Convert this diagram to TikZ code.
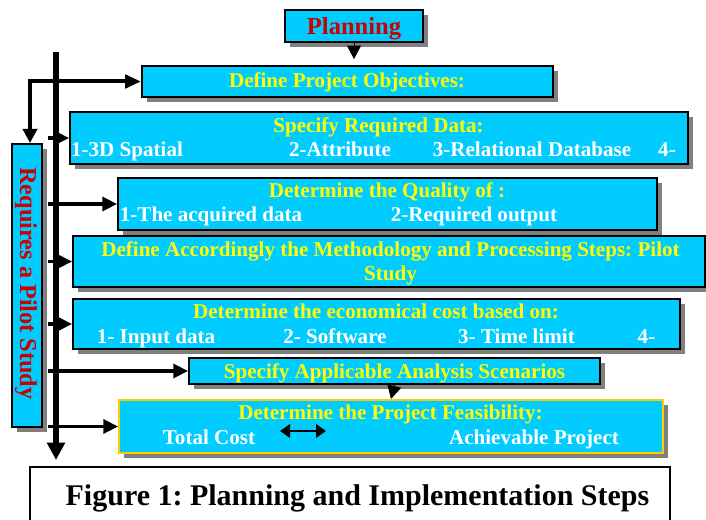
\documentclass[tikz,border=0pt]{standalone}
\usepackage{fontspec}
\setmainfont{Liberation Serif}
\usetikzlibrary{arrows.meta, shadows, calc}

\definecolor{skyfill}{RGB}{0,204,255}
\definecolor{headyellow}{RGB}{255,255,0}
\definecolor{planred}{RGB}{204,0,0}
\definecolor{goldline}{RGB}{255,204,0}
\definecolor{shadowgray}{RGB}{128,128,128}

\newcommand\bodyfont{\frenchspacing\fontsize{15.8}{18}\selectfont\bfseries}

\begin{document}
\begin{tikzpicture}[
  x=0.75pt, y=-0.75pt,
  stepbox/.style={draw=black, line width=1.5pt, fill=skyfill, inner sep=0pt,
                  drop shadow={shadow xshift=4pt, shadow yshift=-4pt,
                               fill=shadowgray, opacity=1}},
  head/.style={text=headyellow, font=\bodyfont, inner sep=0pt, anchor=base},
  item/.style={text=white, font=\bodyfont, inner sep=0pt, anchor=base},
  feed/.style={line width=2.4pt, -{Triangle[length=11pt, width=10.5pt]}},
  downtip/.style={line width=0.6pt, -{Triangle[length=10pt, width=10.5pt]}},
]
\useasboundingbox (0,0) rectangle (706,520);

% top of the chain
\node[stepbox, minimum width=103.5pt, minimum height=24pt] (plan) at (354,26) {};
\node[text=planred, inner sep=0pt, anchor=base,
      font=\fontsize{18.4}{20}\selectfont\bfseries] (plantext) at (354,35) {Planning};

\node[stepbox, minimum width=308.25pt, minimum height=23.25pt] (obj) at (347.5,81.5) {};
\node[head] (objhead) at (347,88) {Define Project Objectives:};

% required data
\node[stepbox, minimum width=463.5pt, minimum height=39pt] (data) at (379,138) {};
\node[head] (datahead) at (378.5,133) {Specify Required Data:};
\node[item] (spatial)  at (127,157)   {1-3D Spatial};
\node[item] (attrib)   at (340,157)   {2-Attribute};
\node[item] (reldb)    at (532,157)   {3-Relational Database};
\node[item] (datamore) at (667,157)   {4-};

% quality
\node[stepbox, minimum width=404.25pt, minimum height=39pt] (qual) at (387.5,204) {};
\node[head] (qualhead) at (387,198) {Determine the Quality of :};
\node[item] (acquired) at (211,222) {1-The acquired data};
\node[item] (output)   at (474,222) {2-Required output};

% methodology
\node[stepbox, minimum width=474pt, minimum height=38.25pt] (meth) at (389,261.5) {};
\node[head] (methhead) at (390.5,257)
  {Define Accordingly the Methodology and Processing Steps: Pilot};
\node[head] (methmore) at (390.5,280) {Study};

% cost
\node[stepbox, minimum width=455.25pt, minimum height=37.5pt] (cost) at (376.5,324) {};
\node[head] (costhead) at (376,318) {Determine the economical cost based on:};
\node[item] (input)    at (156,343)   {1- Input data};
\node[item] (software) at (335,343)   {2- Software};
\node[item] (timelim)  at (516.5,343) {3- Time limit};
\node[item] (costmore) at (646.5,343) {4-};

% scenarios
\node[stepbox, minimum width=308.25pt, minimum height=19.5pt] (scen) at (394.5,371) {};
\node[head] (scenhead) at (394.5,378) {Specify Applicable Analysis Scenarios};

% feasibility
\node[stepbox, draw=goldline, minimum width=408pt, minimum height=39.75pt]
  (feas) at (391,426.5) {};
\node[head] (feashead) at (390.5,419) {Determine the Project Feasibility:};
\node[item] (total)    at (209,444)   {Total Cost};
\node[item] (achieve)  at (534,444)   {Achievable Project};
\coordinate (swapL) at (280,431);
\coordinate (swapR) at (326,431);

% pilot study column
\node[stepbox, minimum width=22.5pt, minimum height=212.25pt] (pilot) at (27,285.5) {};
\node[rotate=-90, text=planred, inner sep=0pt,
      font=\frenchspacing\fontsize{18.2}{20}\selectfont\bfseries] (pilottext) at (26,283.5)
  {Requires a Pilot Study};

% caption
\node[draw=black, line width=0.9pt, fill=white, minimum width=480pt,
      minimum height=47.25pt] (caption) at (350,498.5) {};
\node[font=\frenchspacing\fontsize{22.5}{26}\selectfont\bfseries, inner sep=0pt,
      anchor=base] (captext) at (357.5,505) {Figure 1: Planning and Implementation Steps};

% connectors
\coordinate (spinetop) at (56,52);
\coordinate (spineend) at (56,460);
\draw[line width=4.2pt, -{Triangle[length=13pt, width=13pt]}] (spinetop) -- (spineend);

\draw[line width=3pt, {Triangle[length=10.5pt, width=10.5pt]}-{Triangle[length=12pt, width=10pt]}]
  ($(pilot.north)+(3,0)$) |- (obj.west);

\foreach \b in {data,qual,meth,cost,scen,feas}
  \draw[feed, shorten <=4pt] (pilot.east |- \b.west) -- (\b.west);

\draw[downtip, shorten >=4.5pt] (plan.south) -- (plan.south |- obj.north);
\draw[downtip] (scen.south) -- (feas.north);

\draw[line width=2.2pt, {Triangle[length=7.5pt, width=10pt]}-{Triangle[length=7.5pt, width=10pt]}]
  (swapL) -- (swapR);

\end{tikzpicture}
\end{document}
